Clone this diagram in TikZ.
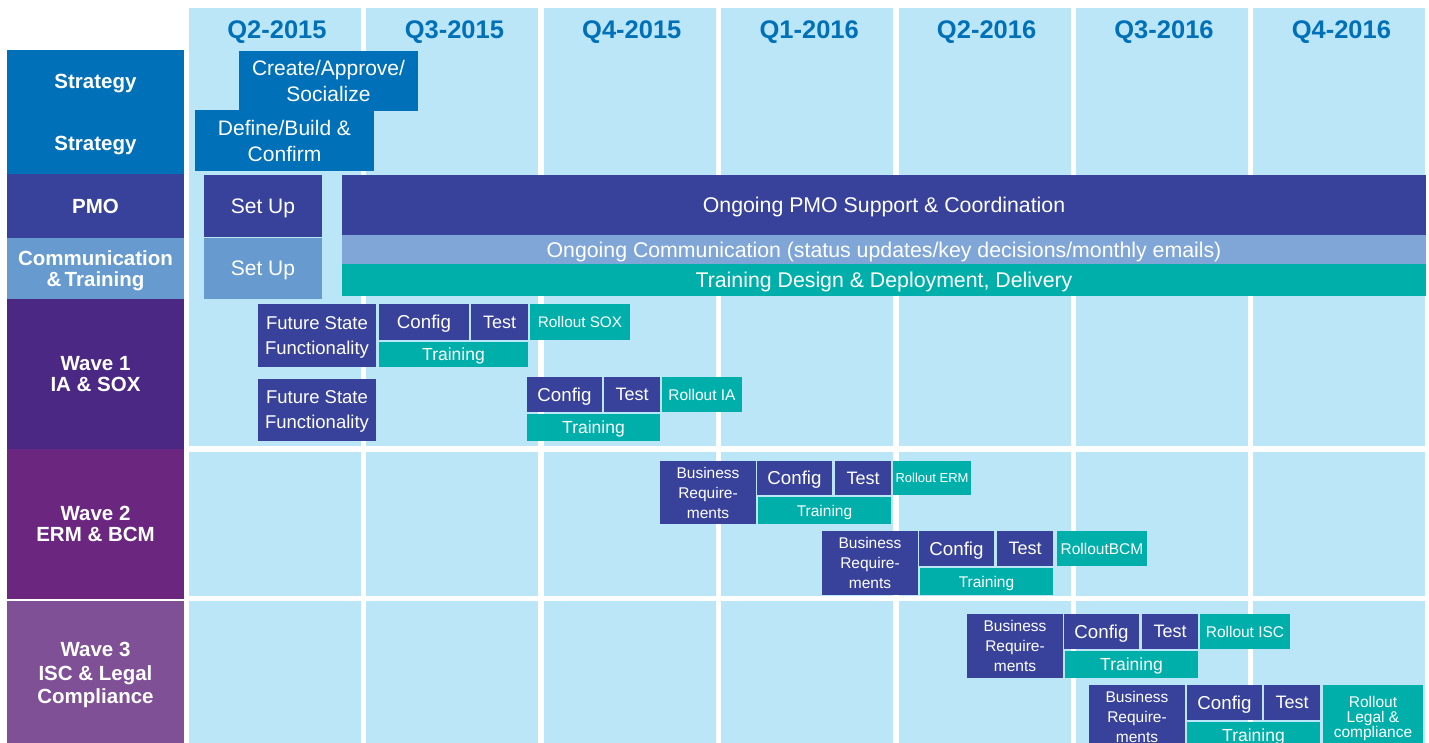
\documentclass[tikz,border=0pt]{standalone}
\usepackage{fontspec}
\setmainfont{Liberation Sans}

\definecolor{qblue}{RGB}{0,112,184}
\definecolor{sky}{RGB}{187,230,248}
\definecolor{pmoblue}{RGB}{56,66,154}
\definecolor{commblue}{RGB}{103,154,207}
\definecolor{commbar}{RGB}{127,166,215}
\definecolor{teal}{RGB}{0,175,170}
\definecolor{waveone}{RGB}{74,40,132}
\definecolor{wavetwo}{RGB}{107,38,128}
\definecolor{wavethree}{RGB}{128,80,150}

\newcommand{\fs}[2]{\fontsize{#1}{#2}\selectfont}

\begin{document}
\begin{tikzpicture}[x=1pt,y=-1pt,
	lane/.style={fill=#1, text=white, font=\bfseries\fs{20.5}{21.5}, align=center, inner sep=0pt, outer sep=0pt, text depth=0pt, minimum width=177},
	task/.style={fill=#1, text=white, align=center, inner sep=0pt, outer sep=0pt, text depth=0pt},
	qhead/.style={text=qblue, font=\bfseries\fs{25.5}{25}, text depth=0pt}]

	\useasboundingbox (0,0) rectangle (1429,743);

	% Quarters
	\foreach \q [count=\i from 0] in {Q2-2015,Q3-2015,Q4-2015,Q1-2016,Q2-2016,Q3-2016,Q4-2016}{
		\fill[sky] (189+177.4*\i,8) rectangle ++(172,438);
		\fill[sky] (189+177.4*\i,452) rectangle ++(172,144);
		\fill[sky] (189+177.4*\i,601) rectangle ++(172,142);
		\node[qhead] (q\i) at (277+177.4*\i,30) {\q};
	}

	% Lanes
	\node[lane=qblue, minimum height=62] (strat1) at (95.5,81) {Strategy};
	\node[lane=qblue, minimum height=62] (strat2) at (95.5,143) {Strategy};
	\node[lane=pmoblue, minimum height=64] (pmo) at (95.5,206) {PMO};
	\node[lane=commblue, minimum height=61] (comm) at (95.5,268.5) {Communication\\\&\,Training};
	\node[lane=waveone, minimum height=150] (wave1) at (95.5,374) {Wave 1\\IA \& SOX};
	\node[lane=wavetwo, minimum height=150] (wave2) at (95.5,524) {Wave 2\\ERM \& BCM};
	\node[lane=wavethree, minimum height=144, font=\bfseries\fs{20.5}{23.5}] (wave3) at (95.5,673) {Wave 3\\ISC \& Legal\\Compliance};

	% Strategy
	\node[task=qblue, minimum width=179, minimum height=60, font=\fs{21}{26}] (create) at (328.5,81) {Create/Approve/\\Socialize};
	\node[task=qblue, minimum width=179, minimum height=61, font=\fs{21}{26}] (define) at (284.5,140.5) {Define/Build \&\\Confirm};

	% PMO and communication
	\node[task=pmoblue, minimum width=118, minimum height=62, font=\fs{21}{25}] (pmoset) at (263,206) {Set Up};
	\node[task=commblue, minimum width=118, minimum height=61, font=\fs{21}{25}] (commset) at (263,268.5) {Set Up};
	\node[task=pmoblue, minimum width=1084, minimum height=60, font=\fs{21.3}{25}] (pmobar) at (884,205) {Ongoing PMO Support \& Coordination};
	\node[task=commbar, minimum width=1084, minimum height=29, font=\fs{21.3}{25}] (commline) at (884,249.5) {Ongoing Communication (status updates/key decisions/monthly emails)};
	\node[task=teal, minimum width=1084, minimum height=32, font=\fs{21.3}{25}] (trainbar) at (884,280) {Training Design \& Deployment, Delivery};

	% Wave 1
	\node[task=pmoblue, minimum width=118, minimum height=63, font=\fs{18.5}{25}] (fsfa) at (317,335.5) {Future State\\Functionality};
	\node[task=pmoblue, minimum width=90, minimum height=36, font=\fs{18.7}{25}] (cfga) at (424,322) {Config};
	\node[task=pmoblue, minimum width=57, minimum height=36, font=\fs{18}{25}] (testa) at (499.5,322) {Test};
	\node[task=teal, minimum width=100, minimum height=36, font=\fs{15.3}{20}] (sox) at (580,322) {Rollout SOX};
	\node[task=teal, minimum width=149, minimum height=25, font=\fs{17.5}{20}] (trna) at (453.5,354.5) {Training};
	\node[task=pmoblue, minimum width=118, minimum height=62, font=\fs{18.5}{25}] (fsfb) at (317,410) {Future State\\Functionality};
	\node[task=pmoblue, minimum width=75, minimum height=35, font=\fs{18.7}{25}] (cfgb) at (564.5,394.5) {Config};
	\node[task=pmoblue, minimum width=56, minimum height=35, font=\fs{18}{25}] (testb) at (632,394.5) {Test};
	\node[task=teal, minimum width=80, minimum height=35, font=\fs{15.5}{20}] (ia) at (702,394.5) {Rollout IA};
	\node[task=teal, minimum width=133, minimum height=27, font=\fs{17.5}{20}] (trnb) at (593.5,427.5) {Training};

	% Wave 2
	\node[task=pmoblue, minimum width=96, minimum height=63, font=\fs{15.5}{20}] (bra) at (708,492.5) {Business\\Require-\\ments};
	\node[task=pmoblue, minimum width=75, minimum height=34, font=\fs{18.7}{25}] (cfgc) at (794.5,478) {Config};
	\node[task=pmoblue, minimum width=56, minimum height=34, font=\fs{18}{25}] (testc) at (863,478) {Test};
	\node[task=teal, minimum width=78, minimum height=34, font=\fs{13}{16}] (erm) at (932,478) {Rollout ERM};
	\node[task=teal, minimum width=133, minimum height=27, font=\fs{15.5}{20}] (trnc) at (824.5,510.5) {Training};
	\node[task=pmoblue, minimum width=96, minimum height=64, font=\fs{15.5}{20}] (brb) at (870,563) {Business\\Require-\\ments};
	\node[task=pmoblue, minimum width=75, minimum height=35, font=\fs{18.7}{25}] (cfgd) at (956.5,548.5) {Config};
	\node[task=pmoblue, minimum width=56, minimum height=35, font=\fs{18}{25}] (testd) at (1025,548.5) {Test};
	\node[task=teal, minimum width=90, minimum height=35, font=\fs{15.5}{20}] (bcm) at (1102,548.5) {RolloutBCM};
	\node[task=teal, minimum width=133, minimum height=27, font=\fs{15.5}{20}] (trnd) at (986.5,581.5) {Training};

	% Wave 3
	\node[task=pmoblue, minimum width=96, minimum height=64, font=\fs{15.5}{20}] (brc) at (1015,646) {Business\\Require-\\ments};
	\node[task=pmoblue, minimum width=75, minimum height=35, font=\fs{18.7}{25}] (cfge) at (1101.5,631.5) {Config};
	\node[task=pmoblue, minimum width=56, minimum height=35, font=\fs{18}{25}] (teste) at (1170,631.5) {Test};
	\node[task=teal, minimum width=90, minimum height=35, font=\fs{15.5}{20}] (isc) at (1245,631.5) {Rollout ISC};
	\node[task=teal, minimum width=133, minimum height=27, font=\fs{17.5}{20}] (trne) at (1131.5,664.5) {Training};
	\node[task=pmoblue, minimum width=96, minimum height=64, font=\fs{15.5}{20}] (brd) at (1137,717) {Business\\Require-\\ments};
	\node[task=pmoblue, minimum width=75, minimum height=35, font=\fs{18.7}{25}] (cfgf) at (1224.5,702.5) {Config};
	\node[task=pmoblue, minimum width=56, minimum height=35, font=\fs{18}{25}] (testf) at (1292,702.5) {Test};
	\node[task=teal, minimum width=100, minimum height=64, font=\fs{15.5}{15}] (legal) at (1373,717) {Rollout\\Legal \&\\compliance};
	\node[task=teal, minimum width=133, minimum height=27, font=\fs{17.5}{20}] (trnf) at (1253.5,735.5) {Training};

\end{tikzpicture}
\end{document}
